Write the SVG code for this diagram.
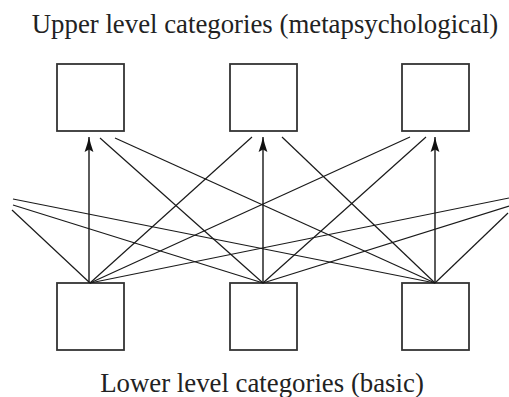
<svg xmlns="http://www.w3.org/2000/svg" width="509" height="397" viewBox="0 0 509 397">
<style>
.box{fill:#fff;stroke:#333;stroke-width:1.8}
.ln{stroke:#1a1a1a;stroke-width:1.2;fill:none}
.vl{stroke:#333;stroke-width:1.6;fill:none}
.lbl{font-family:"Liberation Serif",serif;font-size:26.8px;fill:#222}
</style>
<defs>
<marker id="ah" markerUnits="userSpaceOnUse" markerWidth="18" markerHeight="12" refX="16" refY="6" orient="auto" viewBox="0 0 18 12">
<path d="M16,6 L9,4.2 L1,1.6 L3.5,6 L1,10.4 L9,7.8 Z" fill="#111"/>
</marker>
</defs>
<rect width="509" height="397" fill="#fff"/>
<g id="top1"><rect class="box" x="57" y="64" width="67" height="67"/></g>
<g id="top2"><rect class="box" x="230" y="64" width="67" height="67"/></g>
<g id="top3"><rect class="box" x="402" y="64" width="67" height="67"/></g>
<g id="bot1"><rect class="box" x="57" y="283" width="67" height="67"/></g>
<g id="bot2"><rect class="box" x="230" y="283" width="67" height="67"/></g>
<g id="bot3"><rect class="box" x="402" y="283" width="67" height="67"/></g>
<g id="connectors">
<line class="vl" x1="89" y1="283" x2="89" y2="137" marker-end="url(#ah)"/>
<line class="vl" x1="263" y1="283" x2="263" y2="137" marker-end="url(#ah)"/>
<line class="vl" x1="435" y1="283" x2="435" y2="137" marker-end="url(#ah)"/>
<line class="ln" x1="90" y1="283" x2="252" y2="137"/>
<line class="ln" x1="90" y1="283" x2="410" y2="137"/>
<line class="ln" x1="263" y1="283" x2="100" y2="138"/>
<line class="ln" x1="263" y1="283" x2="426" y2="137"/>
<line class="ln" x1="435" y1="283" x2="115" y2="138"/>
<line class="ln" x1="435" y1="283" x2="282" y2="137"/>
<line class="ln" x1="13" y1="199" x2="435" y2="283"/>
<line class="ln" x1="13" y1="205" x2="263" y2="283"/>
<line class="ln" x1="12" y1="210" x2="90" y2="283"/>
<line class="ln" x1="509" y1="198" x2="90" y2="283"/>
<line class="ln" x1="509" y1="206" x2="263" y2="283"/>
<line class="ln" x1="508" y1="213" x2="435" y2="283"/>
</g>
<text class="lbl" x="265" y="33" text-anchor="middle">Upper level categories (metapsychological)</text>
<text class="lbl" x="262" y="392" text-anchor="middle">Lower level categories (basic)</text>
</svg>
